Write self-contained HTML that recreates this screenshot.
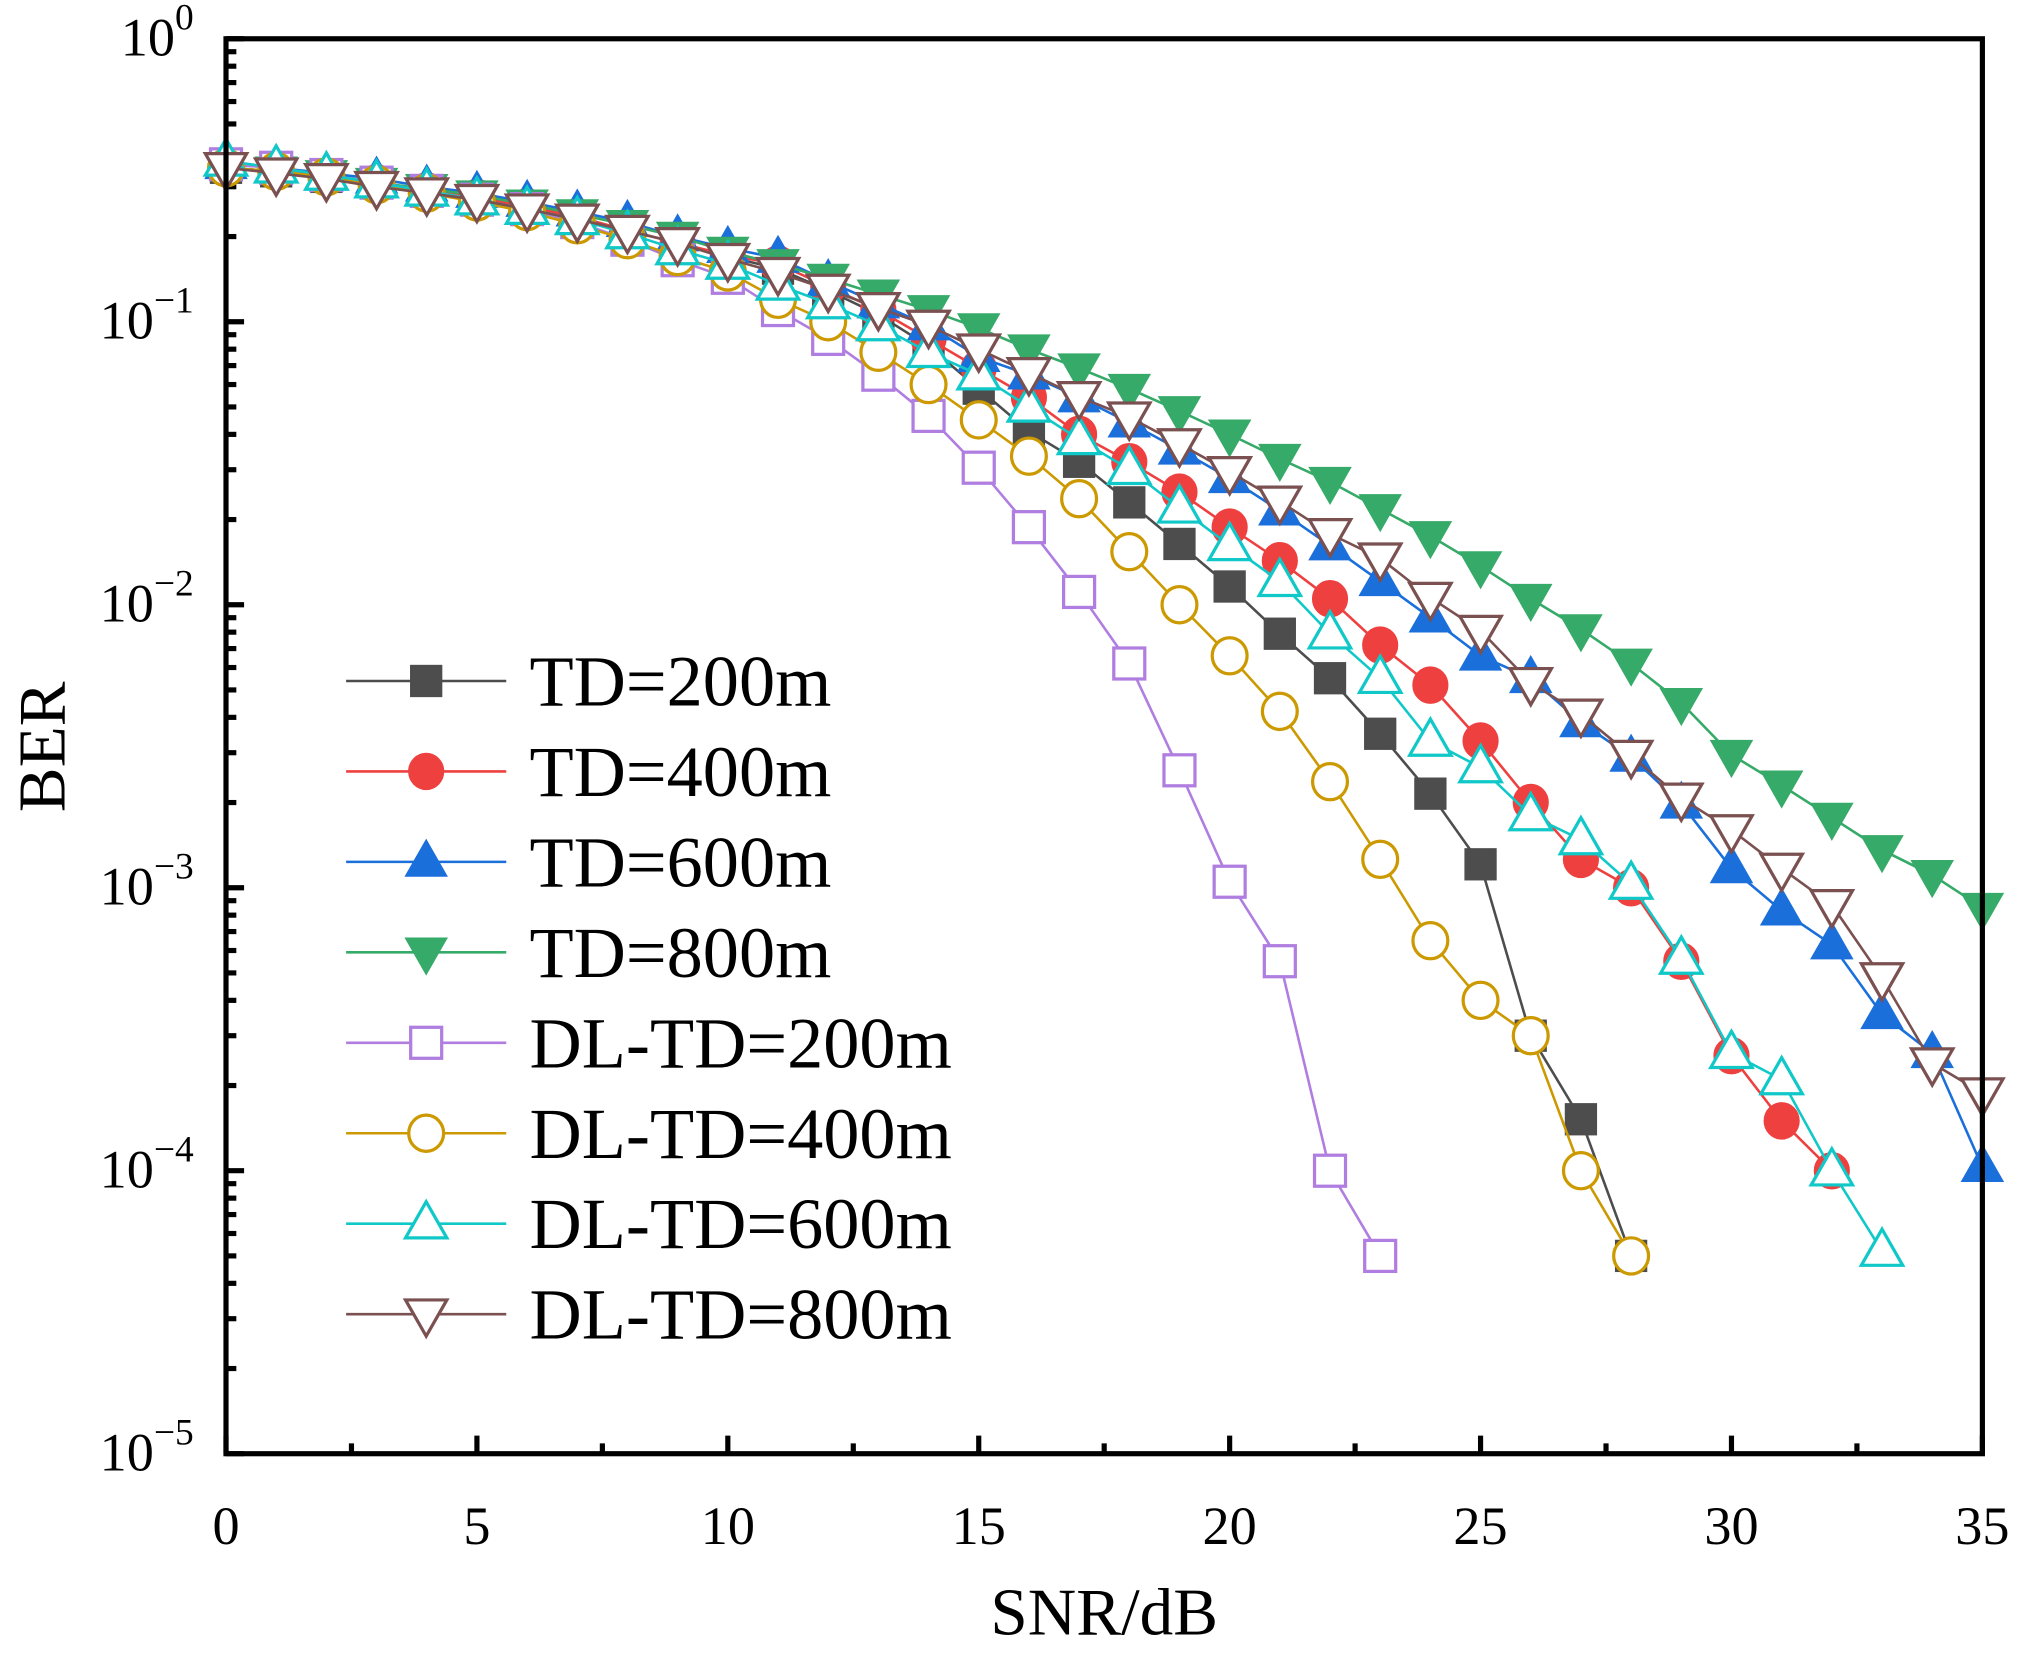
<!DOCTYPE html>
<html><head><meta charset="utf-8"><style>html,body{margin:0;padding:0;background:#fff}svg{display:block}</style></head>
<body>
<svg id="chart" width="2025" height="1654" viewBox="0 0 1568 1280" preserveAspectRatio="none" xmlns="http://www.w3.org/2000/svg" font-family="'Liberation Serif', serif">
<rect width="1568" height="1280" fill="#fff"/>
<g id="ticks"></g>
<g id="series"></g>
<g id="legend"></g>
<rect x="175" y="30" width="1360" height="1095" fill="none" stroke="#000" stroke-width="4"/>
<text x="855" y="1265" font-size="52" text-anchor="middle">SNR/dB</text>
<text transform="translate(50,578) rotate(-90)" font-size="52" text-anchor="middle">BER</text>
</svg>
<script>
const xTicks = [0,5,10,15,20,25,30,35];
const yExps = [0,-1,-2,-3,-4,-5];
const seriesNames = ["TD=200m","TD=400m","TD=600m","TD=800m","DL-TD=200m","DL-TD=400m","DL-TD=600m","DL-TD=800m"];
const td200 = [0.35,0.34,0.325,0.31,0.29,0.275,0.255,0.235,0.21,0.19,0.17,0.154,0.129,0.106,0.082,0.058,0.041,0.032,0.023,0.0164,0.0116,0.0079,0.0055,0.0035,0.00215,0.00121,0.0003,0.000152,0.00005];
const td400 = [0.35,0.34,0.325,0.31,0.29,0.275,0.255,0.235,0.21,0.19,0.172,0.16,0.133,0.11,0.087,0.0685,0.054,0.040,0.032,0.025,0.0188,0.0143,0.0105,0.0072,0.0052,0.0033,0.002,0.00126,0.001,0.00055,0.000255,0.00015,0.0001];
const td600 = [0.36,0.35,0.335,0.32,0.30,0.285,0.265,0.245,0.225,0.2,0.182,0.168,0.139,0.116,0.097,0.075,0.065,0.054,0.044,0.0353,0.028,0.0215,0.0162,0.0121,0.009,0.0066,0.0055,0.00384,0.0029,0.00198,0.00117,0.00083,0.00063,0.000357,0.00026,0.000103];
const td800 = [0.35,0.34,0.33,0.31,0.295,0.28,0.26,0.24,0.22,0.2,0.177,0.16,0.142,0.125,0.11,0.095,0.080,0.0685,0.058,0.0484,0.040,0.0328,0.0272,0.0218,0.0175,0.0137,0.0105,0.0082,0.0062,0.0045,0.00295,0.0023,0.00177,0.00136,0.00111,0.00085];
const dl200 = [0.36,0.35,0.33,0.31,0.29,0.27,0.25,0.225,0.195,0.165,0.143,0.11,0.087,0.065,0.0465,0.0305,0.0188,0.0111,0.0062,0.0026,0.00105,0.00055,0.0001,0.00005];
const dl400 = [0.35,0.34,0.325,0.305,0.285,0.265,0.245,0.22,0.195,0.17,0.15,0.12,0.1,0.078,0.06,0.045,0.0335,0.0237,0.0154,0.01,0.0066,0.0042,0.00237,0.00126,0.00065,0.0004,0.0003,0.0001,0.00005];
const dl600 = [0.37,0.35,0.33,0.31,0.29,0.27,0.25,0.23,0.205,0.18,0.16,0.135,0.116,0.097,0.078,0.065,0.05,0.0384,0.0301,0.022,0.0162,0.0121,0.0079,0.0055,0.0033,0.00266,0.0018,0.00148,0.00103,0.00056,0.00026,0.00021,0.0001,0.000052];
const dl800 = [0.35,0.335,0.32,0.30,0.285,0.27,0.25,0.23,0.21,0.19,0.167,0.149,0.13,0.112,0.097,0.08,0.066,0.0543,0.046,0.037,0.0295,0.0232,0.0178,0.0146,0.0106,0.0081,0.0053,0.0041,0.00293,0.00207,0.0016,0.00117,0.00087,0.00048,0.00024,0.000188];

const NS="http://www.w3.org/2000/svg";
const L=175,R=1535,T=30,B=1125;
const xs=v=>L+v*(R-L)/35;
const ys=v=>T+(-Math.log10(v))*(B-T)/5;
function mk(tag,attrs,parent){const e=document.createElementNS(NS,tag);for(const k in attrs)e.setAttribute(k,attrs[k]);parent.appendChild(e);return e;}
const tg=document.getElementById('ticks');
xTicks.forEach(t=>{
  const l=mk('line',{x1:xs(t),x2:xs(t),y1:B,y2:B-14,stroke:'#000','stroke-width':4},tg);
  
  
  const tx=mk('text',{x:xs(t),y:1195,'font-size':42,'text-anchor':'middle'},tg);
  tx.textContent=t;
  
  
  if(t<35){const m=mk('line',{x1:xs(t+2.5),x2:xs(t+2.5),y1:B,y2:B-8,stroke:'#000','stroke-width':4},tg);
  
  }
});
yExps.forEach(e=>{
  const y=ys(Math.pow(10,e));
  const l=mk('line',{x1:L,x2:L+14,y1:y,y2:y,stroke:'#000','stroke-width':4},tg);
  
  
  const tx=mk('text',{x:150,y:y+13,'font-size':42,'text-anchor':'end'},tg);
  tx.innerHTML='10<tspan dy="-20" font-size="29">'+(e===0?'0':'\u2212'+(-e))+'</tspan>';
  
  
  if(e>-5){for(let k=2;k<=9;k++){const yy=ys(k*Math.pow(10,e-1));
    const m=mk('line',{x1:L,x2:L+8,y1:yy,y2:yy,stroke:'#000','stroke-width':4},tg);
    
    }}
});
const colors=['#4d4d4d','#ef4040','#1a6fdb','#36aa68','#b07de0','#cc9900','#10c8c8','#7a5050'];
const shapes=['sq','ci','tu','td','sq','ci','tu','td'];
const filled=[true,true,true,true,false,false,false,false];
const data=[td200,td400,td600,td800,dl200,dl400,dl600,dl800];
function marker(g,s,x,y,c,f){
  const a=f?{fill:c,stroke:c,'stroke-width':1}:{fill:'#fff',stroke:c,'stroke-width':2.5};
  let e;
  if(s==='sq'){e=mk('rect',Object.assign({x:x-12,y:y-12,width:24,height:24},a),g);}
  else if(s==='ci'){e=mk('ellipse',Object.assign({cx:x,cy:y,rx:13.5,ry:14},a),g);}
  else if(s==='tu'){e=mk('polygon',Object.assign({points:`${x},${y-17} ${x-16},${y+11} ${x+16},${y+11}`},a),g);}
  else {e=mk('polygon',Object.assign({points:`${x},${y+17} ${x-16},${y-11} ${x+16},${y-11}`},a),g);}
  return e;
}
const sg=document.getElementById('series');
const lg=document.getElementById('legend');
data.forEach((d,i)=>{
  const g=mk('g',{},sg);
  
  
  const p=mk('polyline',{points:d.map((v,j)=>xs(j)+','+ys(v)).join(' '),fill:'none',stroke:colors[i],'stroke-width':2},g);
  
  
  d.forEach((v,j)=>{const m=marker(g,shapes[i],xs(j),ys(v),colors[i],filled[i]);
    
    });
  const ly=527+i*70;
  const e=mk('g',{},lg);
  
  
  mk('line',{x1:268,x2:392,y1:ly,y2:ly,stroke:colors[i],'stroke-width':2},e);
  marker(e,shapes[i],330,ly,colors[i],filled[i]);
  const t=mk('text',{x:410,y:ly+19,'font-size':56},e);
  t.textContent=seriesNames[i];
});
</script>
</body></html>
